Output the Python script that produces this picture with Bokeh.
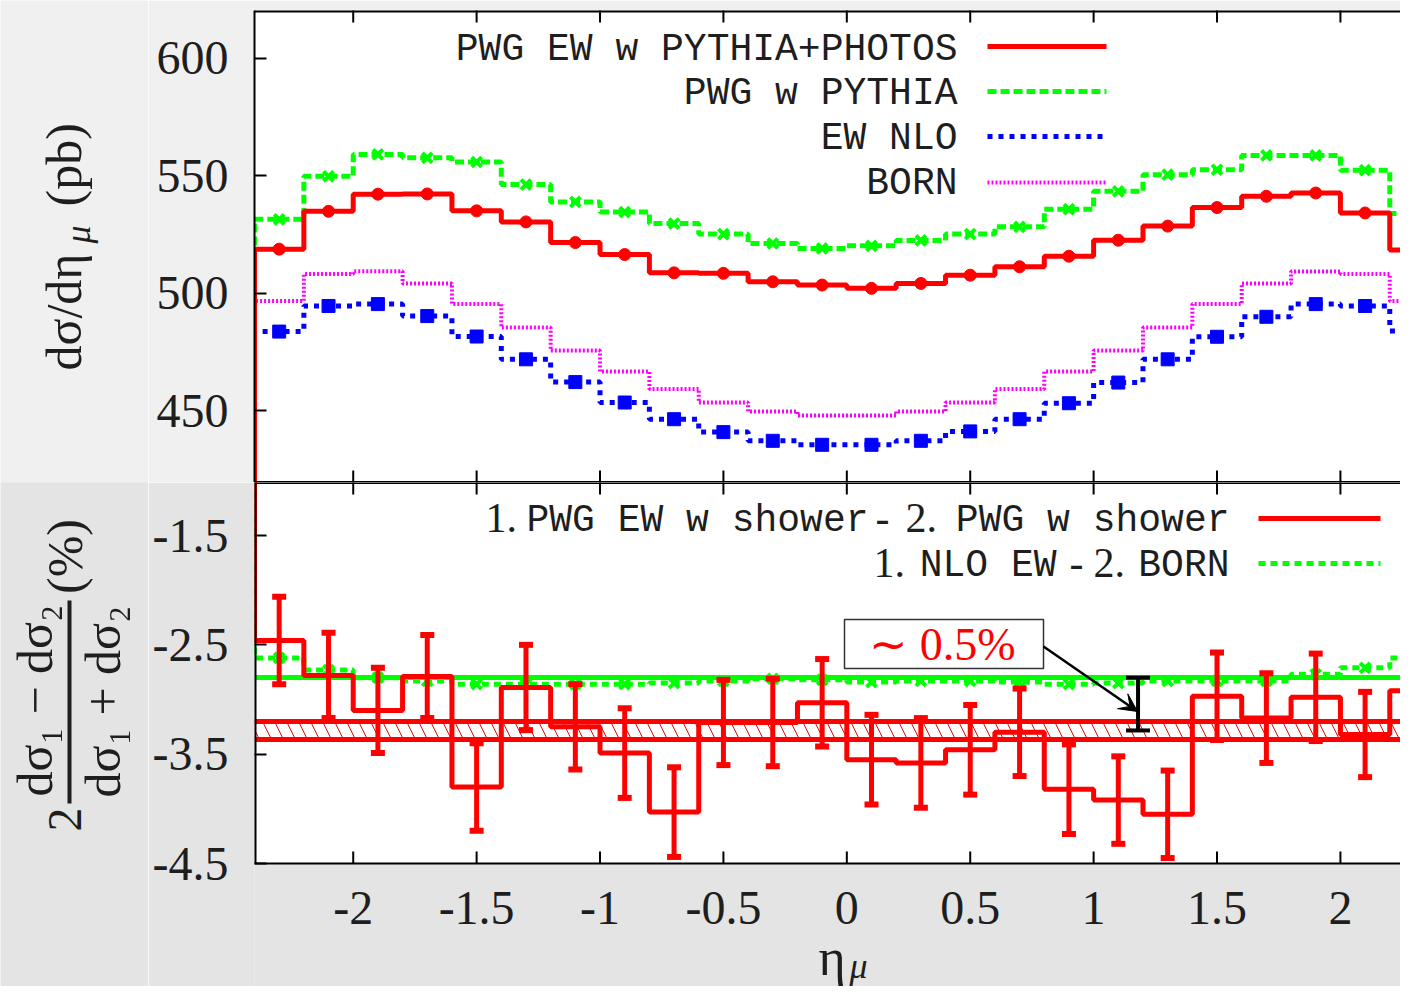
import numpy as np
from bokeh.plotting import figure
from bokeh.layouts import row, column
from bokeh.models import (Range1d, LinearAxis, FixedTicker, ColumnDataSource,
                          Whisker, TeeHead, Arrow, VeeHead)
from bokeh.core.properties import value
from bokeh.embed import file_html
from bokeh.resources import INLINE

# ---------------- data ----------------
eta = [-2.3, -2.1, -1.9, -1.7, -1.5, -1.3, -1.1, -0.9, -0.7, -0.5, -0.3, -0.1,
       0.1, 0.3, 0.5, 0.7, 0.9, 1.1, 1.3, 1.5, 1.7, 1.9, 2.1, 2.3]
bin_width = 0.2

pwg_ew_pythia_photos = [518.7, 534.8, 542.1, 542.2, 535.0, 530.3, 521.5, 516.4, 508.6, 508.4, 504.8, 503.4,
                        502.0, 504.1, 507.6, 511.2, 515.7, 522.5, 528.5, 536.4, 541.2, 542.6, 534.1, 518.3]
pwg_pythia = [531.4, 549.7, 559.0, 557.6, 555.8, 546.2, 538.8, 534.5, 529.6, 525.1, 521.1, 519.0,
              520.1, 522.4, 525.1, 528.2, 535.7, 543.3, 550.4, 552.5, 558.6, 558.6, 552.3, 533.9]
ew_nlo = [483.6, 494.5, 495.3, 490.2, 481.5, 471.8, 462.1, 453.4, 446.3, 440.8, 437.1, 435.4,
          435.4, 437.1, 441.1, 446.3, 453.1, 461.9, 471.8, 481.4, 489.9, 495.3, 494.5, 483.9]
born = [496.6, 508.1, 509.3, 504.1, 495.3, 485.3, 475.5, 466.6, 459.2, 453.4, 449.6, 447.9,
        447.9, 449.6, 453.4, 459.2, 466.6, 475.5, 485.3, 495.3, 504.1, 509.2, 508.1, 496.6]

ratio_shower = [-2.46, -2.78, -3.10, -2.79, -3.80, -2.89, -3.25, -3.49, -4.03, -3.21, -3.21, -3.03,
                -3.55, -3.58, -3.46, -3.30, -3.82, -3.92, -4.05, -2.97, -3.17, -2.98, -3.32, -2.92]
ratio_shower_err = [0.40, 0.39, 0.39, 0.38, 0.40, 0.39, 0.39, 0.41, 0.41, 0.39, 0.40, 0.40,
                    0.41, 0.41, 0.41, 0.40, 0.41, 0.40, 0.40, 0.40, 0.41, 0.40, 0.39, 0.40]
ratio_nlo_born = [-2.62, -2.73, -2.80, -2.83, -2.86, -2.86, -2.86, -2.86, -2.85, -2.83, -2.81, -2.82,
                  -2.84, -2.83, -2.83, -2.84, -2.86, -2.85, -2.83, -2.83, -2.83, -2.77, -2.71, -2.62]

fit_nlo_born = -2.80
fit_shower = -3.283
fit_shower_err = 0.08

x_ticks = [-2, -1.5, -1, -0.5, 0, 0.5, 1, 1.5, 2]
x_tick_labels = ["-2", "-1.5", "-1", "-0.5", "0", "0.5", "1", "1.5", "2"]
top_y_ticks = [450, 500, 550, 600]
top_y_tick_labels = ["450", "500", "550", "600"]
bot_y_ticks = [-4.5, -3.5, -2.5, -1.5]
bot_y_tick_labels = ["-4.5", "-3.5", "-2.5", "-1.5"]

top_legend = ["PWG EW w PYTHIA+PHOTOS", "PWG w PYTHIA", "EW NLO", "BORN"]
annotation_text = "\u223c 0.5%"
annotation_bar_x = 1.18

# ---------------- styling / layout (pixels) ----------------
RED, GREEN, BLUE, MAGENTA = "#ff0000", "#00ff00", "#0000ff", "#ff00ff"
INK = "#1e1e1e"
BG_TOP, BG_BOT = "#f0f0f0", "#e4e4e4"
SERIF, MONO = "Liberation Serif", "Liberation Mono"
MONO_SIZE = "38px"

CANVAS_W, CANVAS_H = 1400, 986
LABEL_W = 148
FRAME_L, FRAME_R = 254, CANVAS_W
TOP_T, SPLIT, BOT_B = 10, 482, 863
TICK_LEN = 12
X_PX = 246.8
x_lo = eta[0] - bin_width / 2
x_hi = x_lo + (FRAME_R - FRAME_L) / X_PX
top_lo, top_hi = 419.35, 620.3
bot_lo, bot_hi = -4.5, -1.015
TOP_PX = (SPLIT - TOP_T) / (top_hi - top_lo)
BOT_PX = (BOT_B - SPLIT) / (bot_hi - bot_lo)


def X(px):
    return x_lo + (px - FRAME_L) / X_PX


def YT(py):
    return top_hi - (py - TOP_T) / TOP_PX


def YB(py):
    return bot_hi - (py - SPLIT) / BOT_PX


bot_view_lo = YB(CANVAS_H)   # the lower figure's frame also holds the x tick labels


def hist_path(c, v, w=bin_width):
    c = np.asarray(c, float)
    v = np.asarray(v, float)
    xs, ys = [c[0] - w / 2], [0.0]
    for ci, vi in zip(c, v):
        xs += [ci - w / 2, ci + w / 2]
        ys += [vi, vi]
    xs.append(c[-1] + w / 2)
    ys.append(0.0)
    return xs, ys


def add_left_axis(p, ticks, labels, line=True):
    ax = LinearAxis(ticker=FixedTicker(ticks=ticks))
    ax.axis_line_width = 2
    ax.axis_line_color = "black" if line else None
    ax.major_tick_in = TICK_LEN
    ax.major_tick_out = 0
    ax.major_tick_line_width = 2
    ax.major_tick_line_color = "black"
    ax.minor_tick_line_color = None
    ax.major_label_overrides = {t: l for t, l in zip(ticks, labels)}
    ax.major_label_text_font = SERIF
    ax.major_label_text_font_size = "48px"
    ax.major_label_text_color = INK
    ax.major_label_standoff = 26
    p.add_layout(ax, "left")


def edge_ticks(p, y_edge):
    # mirrored x ticks on a horizontal frame edge (half of each mark is clipped away)
    p.scatter(x=x_ticks, y=[y_edge] * len(x_ticks), marker="dash", angle=np.pi / 2,
              size=2 * TICK_LEN, line_color="black", line_width=2)


# ---------------- top panel ----------------
top = figure(width=CANVAS_W - LABEL_W, height=SPLIT,
             x_range=Range1d(x_lo, x_hi), y_range=Range1d(top_lo, top_hi),
             output_backend="svg", toolbar_location=None,
             x_axis_location=None, y_axis_location=None,
             min_border_left=FRAME_L - LABEL_W, min_border_right=0,
             min_border_top=TOP_T, min_border_bottom=0,
             border_fill_color=BG_TOP, background_fill_color="white",
             outline_line_color=None)
top.grid.visible = False
add_left_axis(top, top_y_ticks, top_y_tick_labels)

xs, ys = hist_path(eta, born)
top.line(xs, ys, line_color=MAGENTA, line_width=4, line_dash="2 2")
xs, ys = hist_path(eta, ew_nlo)
top.line(xs, ys, line_color=BLUE, line_width=5, line_dash="5 6")
top.scatter(eta, ew_nlo, marker="square", size=13, color=BLUE)
xs, ys = hist_path(eta, pwg_pythia)
top.line(xs, ys, line_color=GREEN, line_width=5, line_dash="9 4")
top.scatter(eta, pwg_pythia, marker="x", size=14, line_color=GREEN, line_width=4)
xs, ys = hist_path(eta, pwg_ew_pythia_photos)
top.line(xs, ys, line_color=RED, line_width=5)
top.scatter(eta, pwg_ew_pythia_photos, marker="circle", size=12, color=RED)

top.hspan(y=[top_hi], line_color="black", line_width=4)
top.hspan(y=[top_lo], line_color="black", line_width=3)
edge_ticks(top, top_hi)
edge_ticks(top, top_lo)

# legend (top)
leg_mid = [49, 93, 138, 183]
leg_line = [46, 91, 136, 182]
leg_styles = [(RED, None, 5), (GREEN, "9 4", 5), (BLUE, "5 6", 5), (MAGENTA, "2 2", 4)]
top.text(x=[X(957)] * 4, y=[YT(b) for b in leg_mid], text=top_legend,
         text_font=value(MONO), text_font_size=MONO_SIZE, text_color=INK,
         text_align="right", text_baseline="middle")
for yl, (col, dash, lw) in zip(leg_line, leg_styles):
    kw = dict(line_color=col, line_width=lw)
    if dash:
        kw["line_dash"] = dash
    top.line([X(987), X(1106)], [YT(yl), YT(yl)], **kw)

# ---------------- bottom panel (frame extends down over the x-label area) ----------------
bot = figure(width=CANVAS_W - LABEL_W, height=CANVAS_H - SPLIT,
             x_range=top.x_range, y_range=Range1d(bot_view_lo, bot_hi),
             output_backend="svg", toolbar_location=None,
             x_axis_location=None, y_axis_location=None,
             min_border_left=FRAME_L - LABEL_W, min_border_right=0,
             min_border_top=0, min_border_bottom=0,
             border_fill_color=BG_BOT, background_fill_color=BG_BOT,
             outline_line_color=None)
bot.grid.visible = False
add_left_axis(bot, bot_y_ticks, bot_y_tick_labels, line=False)

edge_lo, edge_hi = eta[0] - bin_width / 2, eta[-1] + bin_width / 2
# white plotting area of the ratio panel
bot.quad(left=[x_lo], right=[x_hi], bottom=[bot_lo], top=[bot_hi], fill_color="white", line_color=None)

band_lo, band_hi = fit_shower - fit_shower_err, fit_shower + fit_shower_err
bot.quad(left=[edge_lo], right=[edge_hi], bottom=[band_lo], top=[band_hi],
         fill_color=None, line_color=None, hatch_pattern="\\", hatch_color=RED,
         hatch_weight=1, hatch_scale=24)
bot.hspan(y=[band_lo, band_hi], line_color=RED, line_width=5)
bot.hspan(y=[fit_nlo_born], line_color=GREEN, line_width=5)

xs, ys = hist_path(eta, ratio_nlo_born)
bot.line(xs, ys, line_color=GREEN, line_width=5, line_dash="7 5")
bot.scatter(eta, ratio_nlo_born, marker="x", size=14, line_color=GREEN, line_width=4)

xs, ys = hist_path(eta, ratio_shower)
bot.line(xs, ys, line_color=RED, line_width=5)
err_src = ColumnDataSource(dict(
    x=eta,
    upper=[v + e for v, e in zip(ratio_shower, ratio_shower_err)],
    lower=[v - e for v, e in zip(ratio_shower, ratio_shower_err)]))
bot.add_layout(Whisker(source=err_src, base="x", upper="upper", lower="lower",
                       line_color=RED, line_width=5, level="overlay",
                       upper_head=TeeHead(size=14, line_color=RED, line_width=6),
                       lower_head=TeeHead(size=14, line_color=RED, line_width=6)))

# panel frame: top edge (with mirrored ticks), left edge, bottom x axis with inward ticks
bot.hspan(y=[bot_hi], line_color="black", line_width=3)
edge_ticks(bot, bot_hi)
bot.segment(x0=[x_lo], y0=[bot_lo], x1=[x_lo], y1=[bot_hi], line_color="black", line_width=4)
bot.hspan(y=[bot_lo], line_color="black", line_width=2)
bot.segment(x0=x_ticks, y0=[bot_lo] * len(x_ticks), x1=x_ticks,
            y1=[bot_lo + TICK_LEN / BOT_PX] * len(x_ticks), line_color="black", line_width=2)
bot.text(x=x_ticks, y=[YB(907)] * len(x_ticks), text=x_tick_labels, text_font=value(SERIF),
         text_font_size="48px", text_color=INK, text_align="center", text_baseline="middle")
bot.text(x=[X(818)], y=[YB(957)], text=["\u03b7"], text_font=value(SERIF), text_font_size="52px",
         text_color=INK, text_align="left", text_baseline="middle")
bot.text(x=[X(849)], y=[YB(965)], text=["\u03bc"], text_font=value(SERIF), text_font_size="36px",
         text_font_style="italic", text_color=INK, text_align="left", text_baseline="middle")

# annotation: ~0.5% gap between the two fits
gap_src = ColumnDataSource(dict(x=[annotation_bar_x], upper=[fit_nlo_born], lower=[fit_shower]))
bot.add_layout(Whisker(source=gap_src, base="x", upper="upper", lower="lower",
                       line_color="black", line_width=4, level="overlay",
                       upper_head=TeeHead(size=24, line_color="black", line_width=4),
                       lower_head=TeeHead(size=24, line_color="black", line_width=4)))
bot.quad(left=[X(844)], right=[X(1043)], top=[YB(619)], bottom=[YB(668)],
         fill_color="white", line_color="#333333", line_width=1.5)
bot.text(x=[X(942)], y=[YB(644)], text=[annotation_text], text_font=value(SERIF),
         text_font_size="46px", text_color=RED, text_align="center", text_baseline="middle")
bot.add_layout(Arrow(end=VeeHead(size=18, fill_color="black", line_color="black", line_width=1),
                     x_start=X(1043), y_start=YB(646), x_end=X(1137), y_end=YB(711),
                     line_color="black", line_width=2.5))


# legend (bottom)
def btxt(px, py, s, font, size, align):
    bot.text(x=[X(px)], y=[YB(py)], text=[s], text_font=value(font), text_font_size=size,
             text_color=INK, text_align=align, text_baseline="middle")


btxt(485, 517, "1.", SERIF, "42px", "left")
btxt(868, 520, "PWG EW w shower", MONO, MONO_SIZE, "right")
btxt(882, 517, "-", SERIF, "42px", "center")
btxt(905, 517, "2.", SERIF, "42px", "left")
btxt(1229, 520, "PWG w shower", MONO, MONO_SIZE, "right")
btxt(873, 562, "1.", SERIF, "42px", "left")
btxt(1056, 565, "NLO EW", MONO, MONO_SIZE, "right")
btxt(1076, 562, "-", SERIF, "42px", "center")
btxt(1093, 562, "2.", SERIF, "42px", "left")
btxt(1229, 565, "BORN", MONO, MONO_SIZE, "right")
bot.line([X(1258), X(1380)], [YB(518), YB(518)], line_color=RED, line_width=5)
bot.line([X(1258), X(1380)], [YB(563), YB(563)], line_color=GREEN, line_width=5, line_dash="7 5")

# ---------------- left label strip ----------------
lab = figure(width=LABEL_W, height=CANVAS_H,
             x_range=Range1d(0, LABEL_W), y_range=Range1d(-CANVAS_H, 0),
             output_backend="svg", toolbar_location=None,
             x_axis_location=None, y_axis_location=None, min_border=0,
             outline_line_color=None, background_fill_color=BG_TOP, border_fill_color=BG_TOP)
lab.grid.visible = False
lab.quad(left=[0], right=[LABEL_W], top=[-SPLIT], bottom=[-CANVAS_H], fill_color=BG_BOT, line_color=None)


def ltxt(px, py, s, size, align="left", style="normal"):
    lab.text(x=[px], y=[-py], text=[s], angle=np.pi / 2, text_font=value(SERIF),
             text_font_size=size, text_font_style=style, text_color=INK,
             text_align=align, text_baseline="middle")


ltxt(63, 370, "d\u03c3/d\u03b7", "50px")
ltxt(77, 243, "\u03bc", "36px", style="italic")
ltxt(63, 206, "(pb)", "50px")

ltxt(64, 831, "2", "48px")
ltxt(34, 700, "d\u03c3\u2081 \u2212 d\u03c3\u2082", "50px", align="center")
ltxt(102, 701, "d\u03c3\u2081 + d\u03c3\u2082", "50px", align="center")
ltxt(64, 556, "(%)", "50px", align="center")
lab.segment(x0=[69], y0=[-600], x1=[69], y1=[-803], line_width=4, line_color=INK)

layout = row(lab, column(top, bot))
open("out.html", "w").write(file_html(layout, INLINE))
